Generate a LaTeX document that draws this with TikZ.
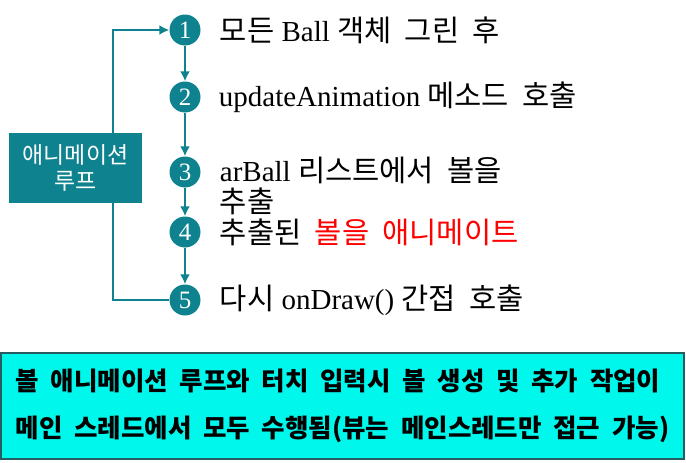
\documentclass[tikz,border=0pt]{standalone}
\usepackage{fontspec}
\setmainfont{Liberation Serif}
\newfontfamily\kr[Scale=1.02,WordSpace=2.0]{Noto Sans CJK KR}
\usetikzlibrary{positioning,arrows.meta}
\definecolor{loopteal}{RGB}{14,131,143}
\definecolor{notecyan}{RGB}{0,247,236}
\definecolor{noteedge}{RGB}{38,92,98}

\begin{document}
\begin{tikzpicture}[x=1pt,y=-1pt]
    \tikzset{num/.style={
        circle, fill=loopteal, text=white, inner sep=0pt, minimum size=31pt,
        font=\fontsize{25}{25}\selectfont
      },
      steptext/.style={inner sep=0pt, anchor=west, align=left,
        font=\fontsize{29}{31}\selectfont
      },
      flow/.style={draw=loopteal, line width=2.4pt, -{Latex[length=10pt,width=10pt]}},
      loopbox/.style={fill=loopteal, text=white, minimum width=133pt, minimum height=70pt,
        inner sep=0pt, align=center, font=\kr\fontsize{22.5}{26}\selectfont
      },
      notebox/.style={draw=noteedge, line width=1.5pt, fill=notecyan, minimum width=683pt,
        minimum height=106pt, inner sep=0pt, align=left, font=\kr\bfseries\fontsize{25}{47}\selectfont
      }
    }

    \useasboundingbox (0,0) rectangle (686,463);

    \node[num] (S1) at (185,30) {1};
    \node[num] (S2) at (185,97) {2};
    \node[num] (S3) at (185,172) {3};
    \node[num] (S4) at (185,232) {4};
    \node[num] (S5) at (185,300) {5};

    \node[steptext, right=19pt of S1] (T1) {{\kr 모든} Ball {\kr 객체 그린 후}};
    \node[steptext, right=18pt of S2] (T2) {updateAnimation {\kr 메소드 호출}};
    \node[steptext, right=19pt of S3, yshift=-14pt] (T3) {arBall {\kr 리스트에서 볼을}\\{\kr 추출}};
    \node[steptext, right=19pt of S4] (T4) {{\kr 추출된 \textcolor{red}{볼을 애니메이트}}};
    \node[steptext, right=19pt of S5] (T5) {{\kr 다시} onDraw() {\kr 간접 호출}};

    \node[loopbox] (L) at (75.5,168) {애니메이션\\루프};
    \coordinate (Lx) at (113,0);

    \draw[flow] (S1) -- (S2.north);
    \draw[flow] (S2) -- (S3.north);
    \draw[flow] (S3) -- (S4.north);
    \draw[flow] (S4) -- (S5.north);

    \draw[flow] (L.north -| Lx) |- (S1.west);
    \draw[flow, -] (L.south -| Lx) |- (S5.west);

    \node[notebox] (N) at (342.5,406) {볼 애니메이션 루프와 터치 입력시 볼 생성 및 추가 작업이\\메인 스레드에서 모두 수행됨(뷰는 메인스레드만 접근 가능)};
\end{tikzpicture}
\end{document}
